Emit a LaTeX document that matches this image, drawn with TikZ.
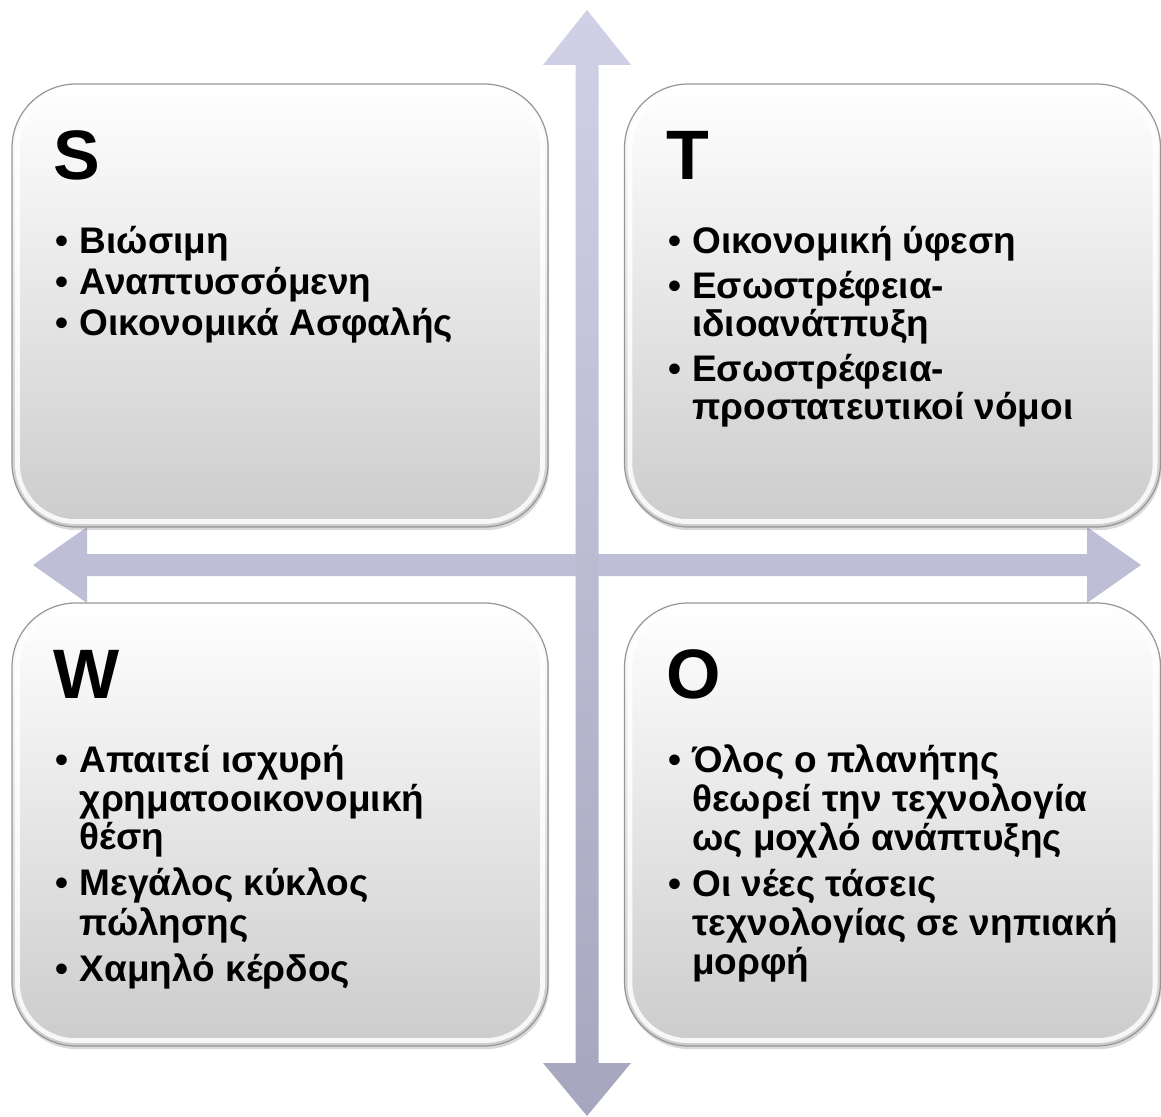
\documentclass[tikz,border=0pt]{standalone}
\usepackage{fontspec}
\setmainfont{Liberation Sans}
\usetikzlibrary{shadows}

\definecolor{axisTop}{RGB}{208,208,230}
\definecolor{axisMid}{RGB}{190,190,214}
\definecolor{axisBottom}{RGB}{166,166,190}
\definecolor{boxBottom}{RGB}{204,204,204}
\definecolor{boxEdge}{RGB}{150,150,150}

\newcommand{\swotitem}[1]{\textbullet & #1}
\newcommand{\swotmore}[1]{& #1}

\begin{document}
\begin{tikzpicture}
[x=0.5pt,y=-0.5pt,
  boxDecorate/.style={rectangle,rounded corners=32pt,inner sep=0pt,
    minimum width=268pt,minimum height=221.5pt,
    top color=white,bottom color=boxBottom,draw=boxEdge,line width=0.6pt,
    drop shadow={shadow xshift=0.6pt,shadow yshift=-1.6pt,opacity=0.3}},
  rimDecorate/.style={draw=white,line width=2.4pt,rounded corners=29pt,opacity=0.85},
  titleDecorate/.style={anchor=base west,inner sep=0pt,
    font=\fontsize{35}{40}\selectfont\bfseries},
  listDecorate/.style={anchor=base west,inner sep=0pt,
    font=\fontsize{18.5}{19}\selectfont\bfseries}]
\useasboundingbox (0,0) rectangle (1161,1117);
%% axes
\coordinate (axisN) at (587,10);
\coordinate (axisS) at (587,1116);
\coordinate (axisW) at (33,565);
\coordinate (axisE) at (1141,565);
\fill[axisMid] (axisW) -- ([shift={(54,-38)}]axisW) -- ([shift={(54,-11)}]axisW)
  -- ([shift={(-54,-11)}]axisE) -- ([shift={(-54,-38)}]axisE) -- (axisE)
  -- ([shift={(-54,38)}]axisE) -- ([shift={(-54,11)}]axisE)
  -- ([shift={(54,11)}]axisW) -- ([shift={(54,38)}]axisW) -- cycle;
\shade[top color=axisTop,bottom color=axisBottom]
  (axisN) -- ([shift={(44,55)}]axisN) -- ([shift={(11.5,55)}]axisN)
  -- ([shift={(11.5,-53)}]axisS) -- ([shift={(44,-53)}]axisS) -- (axisS)
  -- ([shift={(-44,-53)}]axisS) -- ([shift={(-11.5,-53)}]axisS)
  -- ([shift={(-11.5,55)}]axisN) -- ([shift={(-44,55)}]axisN) -- cycle;
%% quadrants
\foreach \boxname/\cx/\cy/\letter/\gap/\items in {
  S/280/305.5/S/1pt/{\swotitem{Βιώσιμη}\\[\gap]
    \swotitem{Αναπτυσσόμενη}\\[\gap]
    \swotitem{Οικονομικά Ασφαλής}},
  T/892.5/305.5/T/3pt/{\swotitem{Οικονομική ύφεση}\\[\gap]
    \swotitem{Εσωστρέφεια-}\\ \swotmore{ιδιοανάτπυξη}\\[\gap]
    \swotitem{Εσωστρέφεια-}\\ \swotmore{προστατευτικοί νόμοι}},
  W/280/824.5/W/3.5pt/{\swotitem{Απαιτεί ισχυρή}\\ \swotmore{χρηματοοικονομική}\\
    \swotmore{θέση}\\[\gap]
    \swotitem{Μεγάλος κύκλος}\\ \swotmore{πώλησης}\\[\gap]
    \swotitem{Χαμηλό κέρδος}},
  O/892.5/824.5/O/3.5pt/{\swotitem{Όλος ο πλανήτης}\\ \swotmore{θεωρεί την τεχνολογία}\\
    \swotmore{ως μοχλό ανάπτυξης}\\[\gap]
    \swotitem{Οι νέες τάσεις}\\ \swotmore{τεχνολογίας σε νηπιακή}\\
    \swotmore{μορφή}}}
{
  \node (\boxname) at (\cx,\cy) [boxDecorate] {};
  \draw[rimDecorate] ([shift={(3pt,-3pt)}]\boxname.north west)
    rectangle ([shift={(-3pt,3pt)}]\boxname.south east);
  \node (\boxname-title) at ([xshift=21pt,yshift=-48pt]\boxname.north west)
    [titleDecorate] {\letter};
  \node (\boxname-list) at ([xshift=22pt,yshift=-85pt]\boxname.north west)
    [listDecorate] {\begin{tabular}[t]{@{}l@{\hspace{5.5pt}}l@{}}\items\end{tabular}};
}
\end{tikzpicture}
\end{document}
